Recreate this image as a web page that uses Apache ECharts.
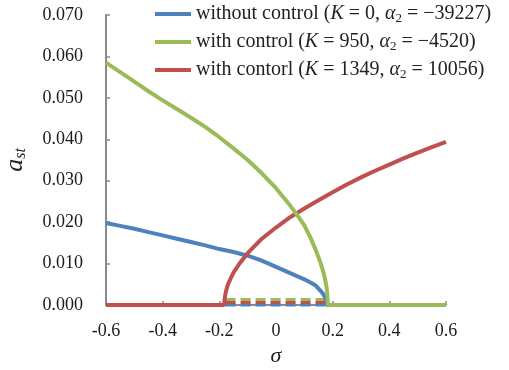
<!DOCTYPE html>
<html>
<head>
<meta charset="utf-8">
<script src="https://cdn.jsdelivr.net/npm/echarts@6/dist/echarts.min.js"></script>
<style>html,body{margin:0;padding:0;background:#fff}#c{width:509px;height:370px}</style>
</head>
<body>
<div id="c"></div>
<script>
// ---- data ----
const xTicks = [-0.6, -0.4, -0.2, 0, 0.2, 0.4, 0.6];
const yTicks = [0, 0.01, 0.02, 0.03, 0.04, 0.05, 0.06, 0.07];

const seriesNames = [
  'without control (K = 0, α2 = −39227)',
  'with control (K = 950, α2 = −4520)',
  'with contorl (K = 1349, α2 = 10056)'
];

const sigmaBlue = [-0.6,-0.55,-0.5,-0.45,-0.4,-0.35,-0.3,-0.25,-0.2,-0.15,-0.1,-0.05,0,0.05,0.08,0.1,0.12,0.14,0.155,0.165,0.172,0.177,0.18,0.6];
const blueVals  = [0.0198,0.0191,0.0184,0.0176,0.0168,0.0160,0.0152,0.0144,0.0135,0.0128,0.0119,0.0107,0.0092,0.0077,0.0068,0.0062,0.0055,0.0047,0.0036,0.0028,0.0020,0.0010,0,0];

const sigmaGreen = [-0.6,-0.55,-0.5,-0.45,-0.4,-0.35,-0.3,-0.25,-0.2,-0.15,-0.1,-0.05,0,0.05,0.08,0.1,0.12,0.14,0.155,0.165,0.172,0.178,0.181,0.183,0.6];
const greenVals  = [0.0585,0.0562,0.0539,0.0516,0.0494,0.0473,0.0452,0.0430,0.0405,0.0378,0.0350,0.0318,0.0282,0.0240,0.0212,0.0192,0.0165,0.0133,0.0106,0.0085,0.0066,0.0045,0.0028,0,0];

const sigmaRed = [-0.6,-0.183,-0.181,-0.178,-0.175,-0.17,-0.16,-0.15,-0.13,-0.1,-0.05,0,0.05,0.1,0.15,0.2,0.25,0.3,0.35,0.4,0.45,0.5,0.55,0.6];
const redVals  = [0,0,0.0016,0.0028,0.0037,0.0049,0.0064,0.0078,0.0099,0.0125,0.0160,0.0187,0.0212,0.0233,0.0253,0.0272,0.0291,0.0308,0.0324,0.0339,0.0354,0.0368,0.0381,0.0394];

// unstable (dashed) branches
const sigmaDash = [-0.178, 0.176];
const greenDash = [0.0013, 0.0013];
const redDash   = [0.0006, 0.0006];
const blueDash  = [0, 0];

const colors = { blue: '#4f81bd', green: '#9bbb59', red: '#c0504d' };

// ---- chart ----
const pairs = (xs, ys) => xs.map((x, i) => [x, ys[i]]);
const legendRich = {
  'without control (K = 0, α2 = −39227)': 'without control ({i|K} = 0, {i|α}{s|2} = −39227)',
  'with control (K = 950, α2 = −4520)': 'with control ({i|K} = 950, {i|α}{s|2} = −4520)',
  'with contorl (K = 1349, α2 = 10056)': 'with contorl ({i|K} = 1349, {i|α}{s|2} = 10056)'
};
const serif = 'Liberation Serif';
const axisGray = '#8a8a8a';
const LF = 20;

const chart = echarts.init(document.getElementById('c'), null, { renderer: 'canvas' });
chart.setOption({
  animation: false,
  backgroundColor: '#fff',
  grid: { left: 106, right: 63, top: 15, bottom: 65, containLabel: false, outerBoundsMode: 'none' },
  legend: {
    data: seriesNames,
    orient: 'vertical',
    left: 155, top: 3, padding: 0,
    icon: 'rect', itemWidth: 36, itemHeight: 4, itemGap: 6,
    formatter: n => legendRich[n],
    textStyle: {
      fontFamily: serif, fontSize: LF, color: '#222', lineHeight: 22,
      rich: {
        i: { fontFamily: serif, fontSize: LF, fontStyle: 'italic', color: '#222', lineHeight: 22 },
        s: { fontFamily: serif, fontSize: 13, color: '#222', verticalAlign: 'bottom', lineHeight: 22, padding: [7, 0, 0, 0] }
      }
    }
  },
  xAxis: {
    type: 'value', min: xTicks[0], max: xTicks[xTicks.length - 1], interval: 0.2,
    name: 'σ', nameLocation: 'middle', nameGap: 40, nameMoveOverlap: false,
    nameTextStyle: { fontFamily: serif, fontSize: 22, fontStyle: 'italic', color: '#222' },
    axisLine: { show: true, onZero: false, lineStyle: { color: axisGray, width: 2 } },
    axisTick: { show: true, inside: true, length: 4, lineStyle: { color: axisGray, width: 1.5 } },
    axisLabel: { fontFamily: serif, fontSize: 18, color: '#1a1a1a', margin: 17,
      formatter: v => String(Math.round(v * 10) / 10) },
    splitLine: { show: false }
  },
  yAxis: {
    type: 'value', min: yTicks[0], max: yTicks[yTicks.length - 1], interval: 0.01,
    name: '{a|a}{s|st}', nameLocation: 'middle', nameGap: 77, nameRotate: 90, nameMoveOverlap: false,
    nameTextStyle: {
      rich: {
        a: { fontFamily: serif, fontSize: 26, fontStyle: 'italic', color: '#222', lineHeight: 28 },
        s: { fontFamily: serif, fontSize: 16, fontStyle: 'italic', color: '#222', verticalAlign: 'bottom', lineHeight: 28, padding: [10, 0, 0, 0] }
      }
    },
    axisLine: { show: true, onZero: false, lineStyle: { color: axisGray, width: 2 } },
    axisTick: { show: true, inside: true, length: 4, lineStyle: { color: axisGray, width: 1.5 } },
    axisLabel: { fontFamily: serif, fontSize: 18, color: '#1a1a1a', margin: 23,
      formatter: v => v.toFixed(3) },
    splitLine: { show: false }
  },
  series: [
    { name: 'dashBlue', type: 'line', data: pairs(sigmaDash, blueDash), symbol: 'none', clip: false,
      lineStyle: { color: colors.blue, width: 3, type: [10, 5] }, z: 2 },
    { name: 'dashRed', type: 'line', data: pairs(sigmaDash, redDash), symbol: 'none', clip: false,
      lineStyle: { color: colors.red, width: 3, type: [10, 5] }, z: 2 },
    { name: 'dashGreen', type: 'line', data: pairs(sigmaDash, greenDash), symbol: 'none', clip: false,
      lineStyle: { color: colors.green, width: 3, type: [10, 5] }, z: 2 },
    { name: seriesNames[0], type: 'line', data: pairs(sigmaBlue, blueVals), symbol: 'none', clip: false,
      color: colors.blue, lineStyle: { color: colors.blue, width: 4 }, z: 3 },
    { name: seriesNames[2], type: 'line', data: pairs(sigmaRed, redVals), symbol: 'none', clip: false,
      color: colors.red, lineStyle: { color: colors.red, width: 4 }, z: 4 },
    { name: seriesNames[1], type: 'line', data: pairs(sigmaGreen, greenVals), symbol: 'none', clip: false,
      color: colors.green, lineStyle: { color: colors.green, width: 4 }, z: 5 }
  ]
});
</script>
</body>
</html>
